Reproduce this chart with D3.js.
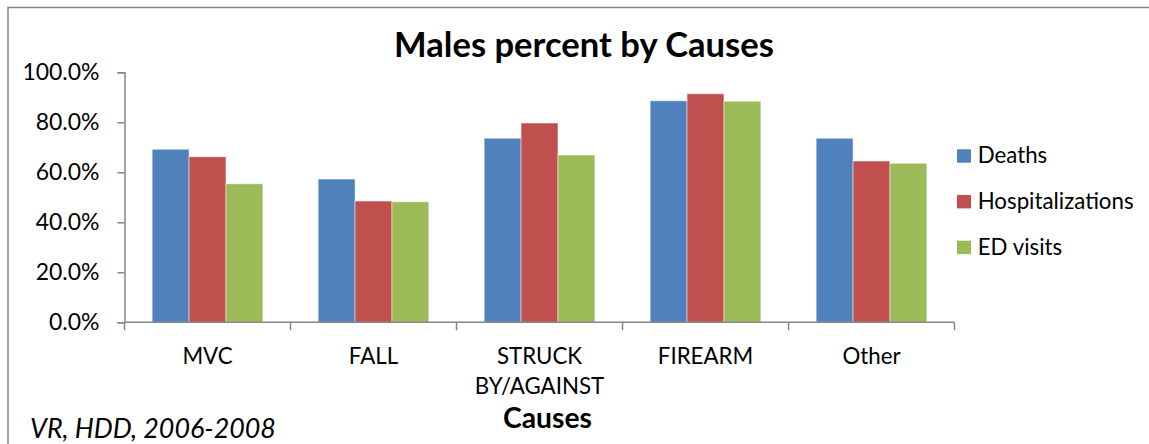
<!DOCTYPE html>
<html><head><meta charset="utf-8">
<script src="https://cdn.jsdelivr.net/npm/d3@7/dist/d3.min.js"></script>
<style>body{margin:0;background:#fff;overflow:hidden}svg{display:block}</style>
</head><body>
<script>
const categories = ["MVC", "FALL", "STRUCK BY/AGAINST", "FIREARM", "Other"];
const categoryLines = [["MVC"], ["FALL"], ["STRUCK", "BY/AGAINST"], ["FIREARM"], ["Other"]];
const seriesNames = ["Deaths", "Hospitalizations", "ED visits"];
const deaths = [69.2, 57.3, 73.6, 88.6, 73.6];
const hospitalizations = [66.2, 48.5, 79.7, 91.4, 64.5];
const edVisits = [55.4, 48.2, 66.9, 88.4, 63.6];
const yTicks = [0, 20, 40, 60, 80, 100];
const colors = ["#4F81BD", "#C0504D", "#9BBB59"];
const seriesValues = [deaths, hospitalizations, edVisits];

const W = 1149, H = 444;
const FONT = "Lato, 'Open Sans', sans-serif";
const svg = d3.select("body").append("svg").attr("width", W).attr("height", H);

// chart border
svg.append("rect").attr("x", 8).attr("y", 7.5).attr("width", W + 20).attr("height", H + 20)
  .attr("fill", "#fff").attr("stroke", "#878787").attr("stroke-width", 1.5);

const plot = {left: 124.5, right: 954.5, top: 72.3, bottom: 322.3};
const y = d3.scaleLinear().domain([0, 100]).range([plot.bottom, plot.top]);
const xCat = d3.scaleBand().domain(categories).range([plot.left, plot.right]).padding(0);
const x0 = d3.scaleBand().domain(categories).range([plot.left, plot.right])
  .paddingInner(1.5 / 4.5).paddingOuter(0.75 / 4.5);
const x1 = d3.scaleBand().domain(seriesNames).range([0, x0.bandwidth()]);

function fit(sel, target) {
  const n = sel.node(); const fs = parseFloat(sel.attr("font-size"));
  const w = n.getComputedTextLength();
  sel.attr("font-size", fs * target / w);
  return fs * target / w;
}

const probe = svg.append("text").attr("font-family", FONT).attr("font-size", 20).text("Hospitalizations");
const labelSize = fit(probe, 156);
probe.remove();

// bars
const groups = svg.append("g").selectAll("g").data(categories).join("g")
  .attr("transform", c => `translate(${x0(c)},0)`);
groups.selectAll("rect").data((c, i) => seriesNames.map((s, j) => ({s, j, v: seriesValues[j][i]})))
  .join("rect")
  .attr("x", d => x1(d.s)).attr("width", x1.bandwidth())
  .attr("y", d => y(d.v)).attr("height", d => y(0) - y(d.v))
  .attr("fill", d => colors[d.j])
  .attr("stroke", "rgba(255,255,255,0.45)").attr("stroke-width", 1);

// y axis
const yAxis = d3.axisLeft(y).tickValues(yTicks).tickSize(7).tickPadding(18)
  .tickFormat(d => d.toFixed(1) + "%");
const yg = svg.append("g").attr("transform", `translate(${plot.left},0)`).call(yAxis);
yg.select(".domain").attr("stroke", "#868686").attr("stroke-width", 1.5);
yg.selectAll(".tick line").attr("stroke", "#868686").attr("stroke-width", 1.5);
yg.selectAll(".tick text").attr("font-family", FONT).attr("font-size", labelSize * 1.03)
  .attr("fill", "#000");

// x axis
const xAxis = d3.axisBottom(xCat).tickSize(0).tickFormat("");
const xg = svg.append("g").attr("transform", `translate(0,${plot.bottom})`).call(xAxis);
xg.select(".domain").attr("stroke", "#868686").attr("stroke-width", 1.5).attr("d", `M${plot.left},0H${plot.right}`);
const bounds = categories.map(c => xCat(c)).concat([plot.right]);
xg.selectAll(".bound").data(bounds).join("line").attr("class", "bound")
  .attr("x1", d => d).attr("x2", d => d).attr("y1", 0).attr("y2", 8)
  .attr("stroke", "#868686").attr("stroke-width", 1.5);
const lab = svg.append("g").selectAll("text").data(categories).join("text")
  .attr("x", c => xCat(c) + xCat.bandwidth() / 2).attr("y", 364)
  .attr("text-anchor", "middle").attr("font-family", FONT).attr("font-size", labelSize).attr("fill", "#000");
lab.selectAll("tspan").data((c, i) => categoryLines[i]).join("tspan")
  .attr("x", function() { return d3.select(this.parentNode).attr("x"); })
  .attr("dy", (d, i) => i === 0 ? 0 : 30).text(d => d);

// axis title
const at = svg.append("text").attr("x", (plot.left + plot.right) / 2 + 8).attr("y", 428)
  .attr("text-anchor", "middle").attr("font-family", FONT).attr("font-weight", "bold")
  .attr("font-size", 22).attr("fill", "#000").text("Causes");
fit(at, 89);

// title
const t = svg.append("text").attr("x", 584).attr("y", 57).attr("text-anchor", "middle")
  .attr("font-family", FONT).attr("font-weight", "bold").attr("font-size", 30).attr("fill", "#000")
  .text("Males percent by Causes");
fit(t, 380);

// legend
const lg = svg.append("g").selectAll("g").data(seriesNames).join("g")
  .attr("transform", (d, i) => `translate(957,${149.3 + i * 45.7})`);
lg.append("rect").attr("width", 14).attr("height", 13.4).attr("fill", (d, i) => colors[i]);
lg.append("text").attr("x", 20.7).attr("y", 14).attr("font-family", FONT).attr("font-size", labelSize)
  .attr("fill", "#000").text(d => d);

// footnote
const fn = svg.append("text").attr("x", 30).attr("y", 438).attr("font-family", FONT)
  .attr("font-style", "italic").attr("font-size", 22).attr("fill", "#000").text("VR, HDD, 2006-2008");
fit(fn, 246);
</script>
</body></html>
